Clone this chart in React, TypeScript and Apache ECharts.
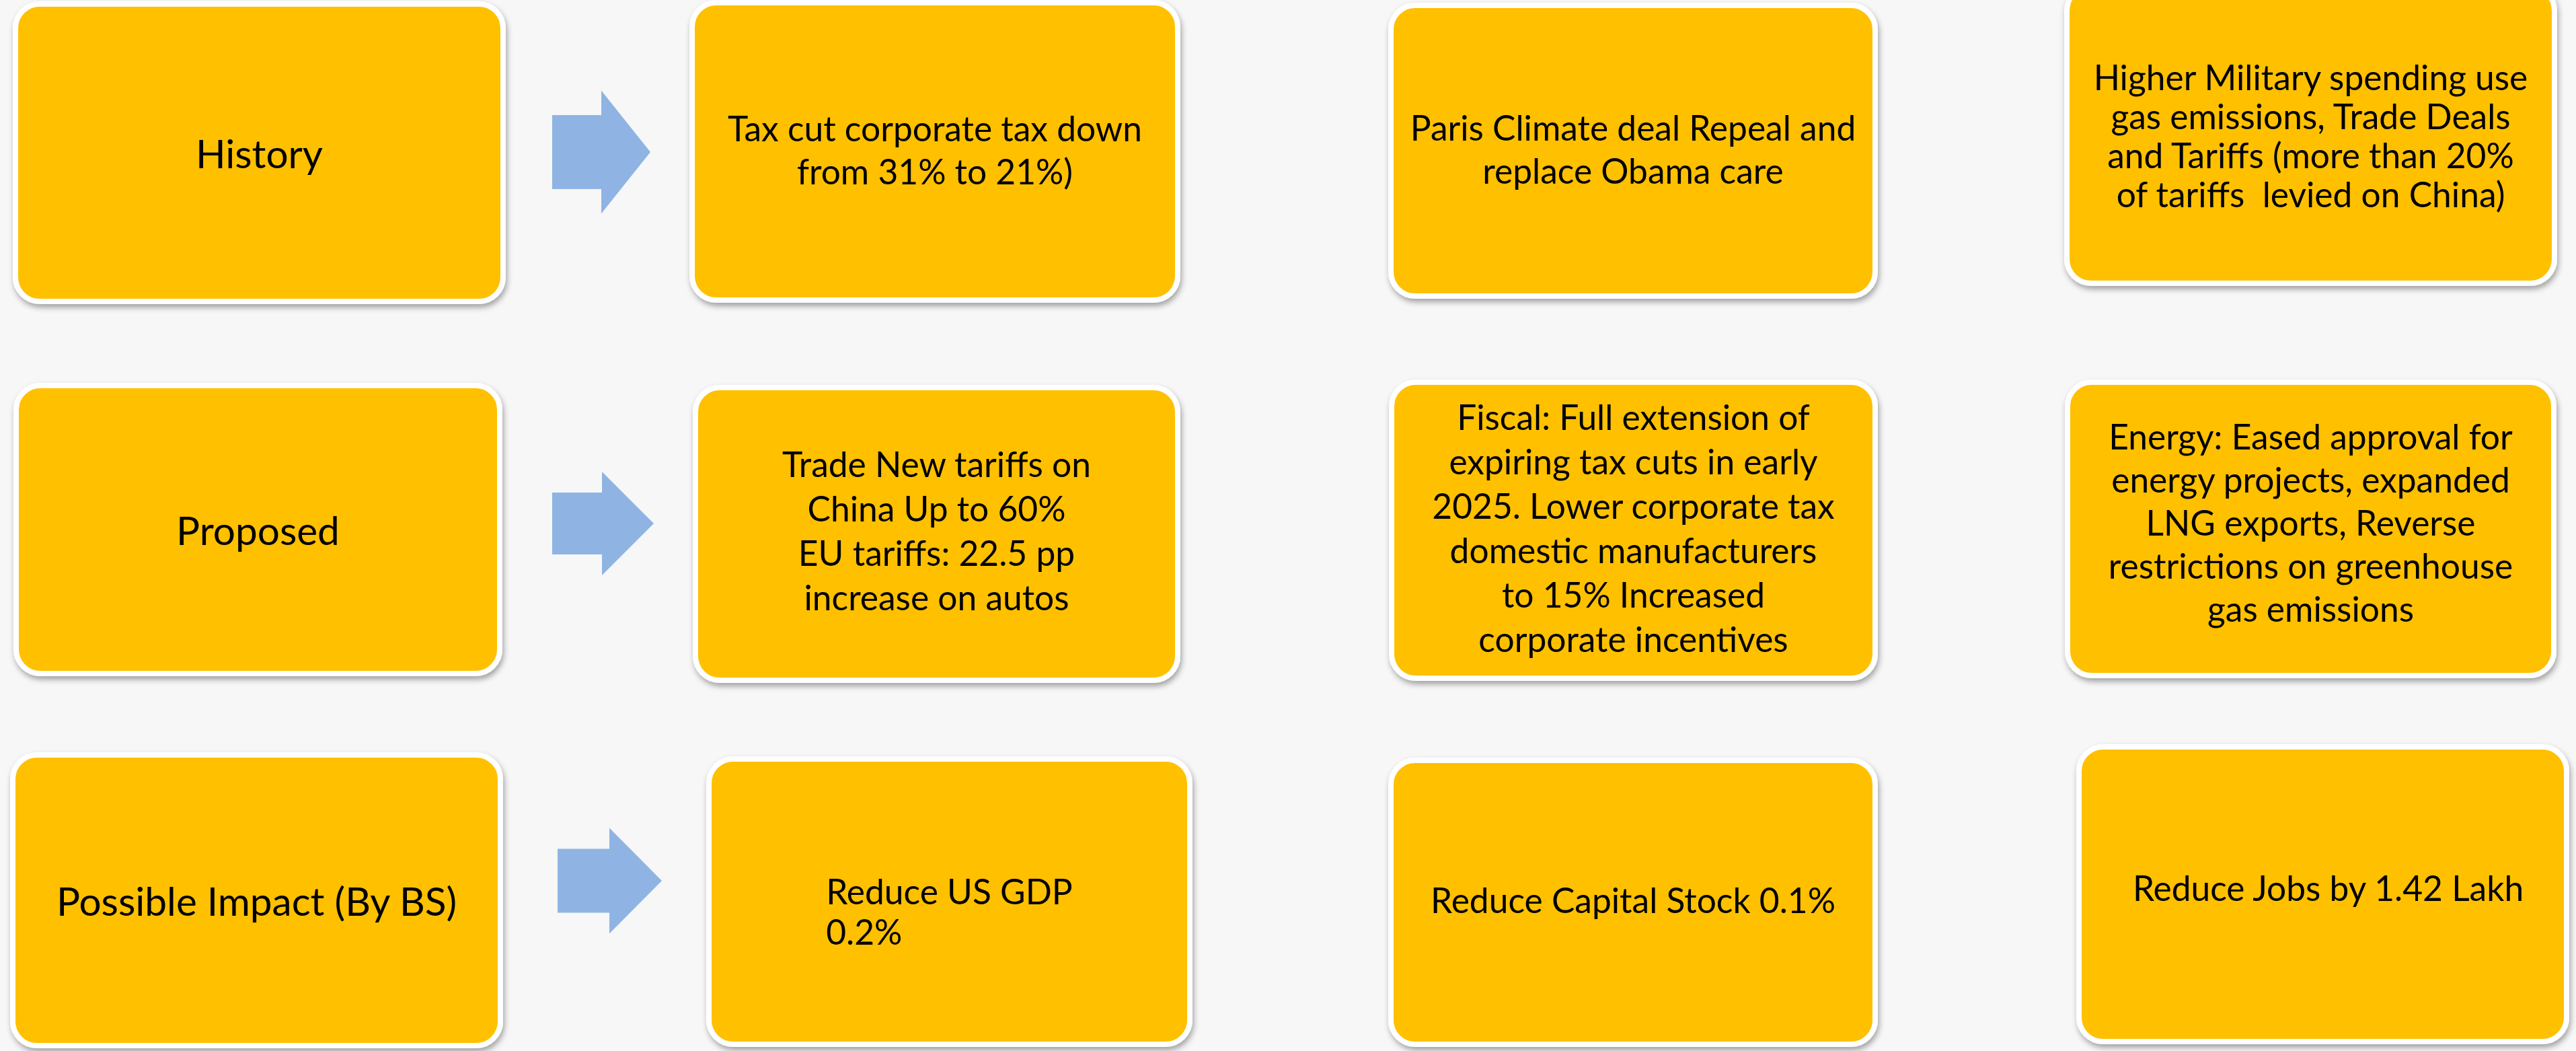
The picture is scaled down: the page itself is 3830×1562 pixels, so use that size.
import React, { useEffect, useRef } from "react";
import * as echarts from "echarts";

// ---- content ----
const rowLabels = ["History", "Proposed", "Possible Impact (By BS)"];
const historyItems = [
  "Tax cut corporate tax down\nfrom 31% to 21%)",
  "Paris Climate deal Repeal and\nreplace Obama care",
  "Higher Military spending use\ngas emissions, Trade Deals\nand Tariffs (more than 20%\nof tariffs  levied on China)",
];
const proposedItems = [
  "Trade New tariffs on\nChina Up to 60%\nEU tariffs: 22.5 pp\nincrease on autos",
  "Fiscal: Full extension of\nexpiring tax cuts in early\n2025. Lower corporate tax\ndomestic manufacturers\nto 15% Increased\ncorporate incentives",
  "Energy: Eased approval for\nenergy projects, expanded\nLNG exports, Reverse\nrestrictions on greenhouse\ngas emissions",
];
const impactItems = ["Reduce US GDP\n0.2%", "Reduce Capital Stock 0.1%", "Reduce Jobs by 1.42 Lakh"];
const rowItems = [historyItems, proposedItems, impactItems];
// per-box alignment of lines inside the text block
const rowAlign = [
  ["center", "center", "center"],
  ["center", "center", "center"],
  ["block-left", "center", "center"],
];

// ---- layout (px) ----
const W = 3830;
const H = 1562;
const boxLayout = [
  [[19, 2, 733, 450], [1025, 0, 730, 450], [2064, 4, 728, 440], [3069, -24, 733, 449]],
  [[20, 569, 727, 436], [1030, 572, 725, 443], [2065, 564, 727, 448], [3070, 564, 731, 444]],
  [[15, 1118, 733, 440], [1050, 1124, 723, 432], [2064, 1126, 728, 430], [3087, 1106, 733, 446]],
];
// text offsets [dx, dy] and line heights per item box
const textOffset = [
  [[0, -3], [0, -3], [0, 0]],
  [[0, -6], [0, -4], [0, -10]],
  [[0, 14], [0, -4], [8, -10]],
];
const lineHeights = [
  [64, 64, 58],
  [66, 66, 64],
  [60, 66, 66],
];
const arrowLayout = [
  { x0: 821, xb: 894, xt: 967, yc: 226, hh: 91.5, sh: 55 },
  { x0: 821, xb: 895, xt: 972, yc: 778, hh: 77, sh: 46 },
  { x0: 829, xb: 906, xt: 984, yc: 1309, hh: 78.5, sh: 47.5 },
];

const FONT = "Lato, 'Open Sans', sans-serif";
const LABEL_SIZE = 58.5;
const ITEM_SIZE = 51.5;
const YELLOW = "#FFC000";
const ARROW = "#8FB4E3";

function measure(text: string, size: number): number {
  const c = document.createElement("canvas").getContext("2d");
  if (!c) return text.length * size * 0.5;
  c.font = `${size}px Lato`;
  return c.measureText(text).width;
}

function buildGraphics() {
  const els: any[] = [];
  boxLayout.forEach((row, r) => {
    row.forEach((b, c) => {
      const [x, y, w, h] = b;
      els.push({
        type: "rect",
        shape: { x: x + 4, y: y + 4, width: w - 8, height: h - 8, r: 36 },
        style: {
          fill: YELLOW,
          stroke: "#ffffff",
          lineWidth: 8,
          shadowBlur: 8,
          shadowOffsetX: 2,
          shadowOffsetY: 5,
          shadowColor: "rgba(0,0,0,0.35)",
        },
      });
      const isLabel = c === 0;
      const text = isLabel ? rowLabels[r] : rowItems[r][c - 1];
      const size = isLabel ? LABEL_SIZE : ITEM_SIZE;
      const off = isLabel ? [0, 0] : textOffset[r][c - 1];
      const lh = isLabel ? 74 : lineHeights[r][c - 1];
      const cx = x + w / 2 + off[0];
      const cy = y + h / 2 + off[1];
      const align = isLabel ? "center" : rowAlign[r][c - 1];
      const base = {
        text,
        fill: "#000",
        fontFamily: FONT,
        fontSize: size,
        lineHeight: lh,
        verticalAlign: "middle",
      };
      if (align === "block-left") {
        const maxW = Math.max(...text.split("\n").map((l) => measure(l, size)));
        els.push({ type: "text", x: cx - maxW / 2, y: cy, style: { ...base, align: "left" } });
      } else {
        els.push({ type: "text", x: cx, y: cy, style: { ...base, align: "center" } });
      }
    });
  });
  arrowLayout.forEach((a) => {
    els.push({
      type: "polygon",
      shape: {
        points: [
          [a.x0, a.yc - a.sh],
          [a.xb, a.yc - a.sh],
          [a.xb, a.yc - a.hh],
          [a.xt, a.yc],
          [a.xb, a.yc + a.hh],
          [a.xb, a.yc + a.sh],
          [a.x0, a.yc + a.sh],
        ],
      },
      style: { fill: ARROW },
    });
  });
  return els;
}

export default function App() {
  const ref = useRef<HTMLDivElement>(null);
  useEffect(() => {
    if (!ref.current) return;
    const chart = echarts.init(ref.current, undefined, { renderer: "svg", width: W, height: H });
    chart.setOption({
      animation: false,
      backgroundColor: "#f7f7f7",
      graphic: { elements: buildGraphics() },
    });
    return () => chart.dispose();
  }, []);
  return (
    <div
      ref={ref}
      style={{ position: "fixed", left: 0, top: 0, width: W, height: H }}
    />
  );
}
